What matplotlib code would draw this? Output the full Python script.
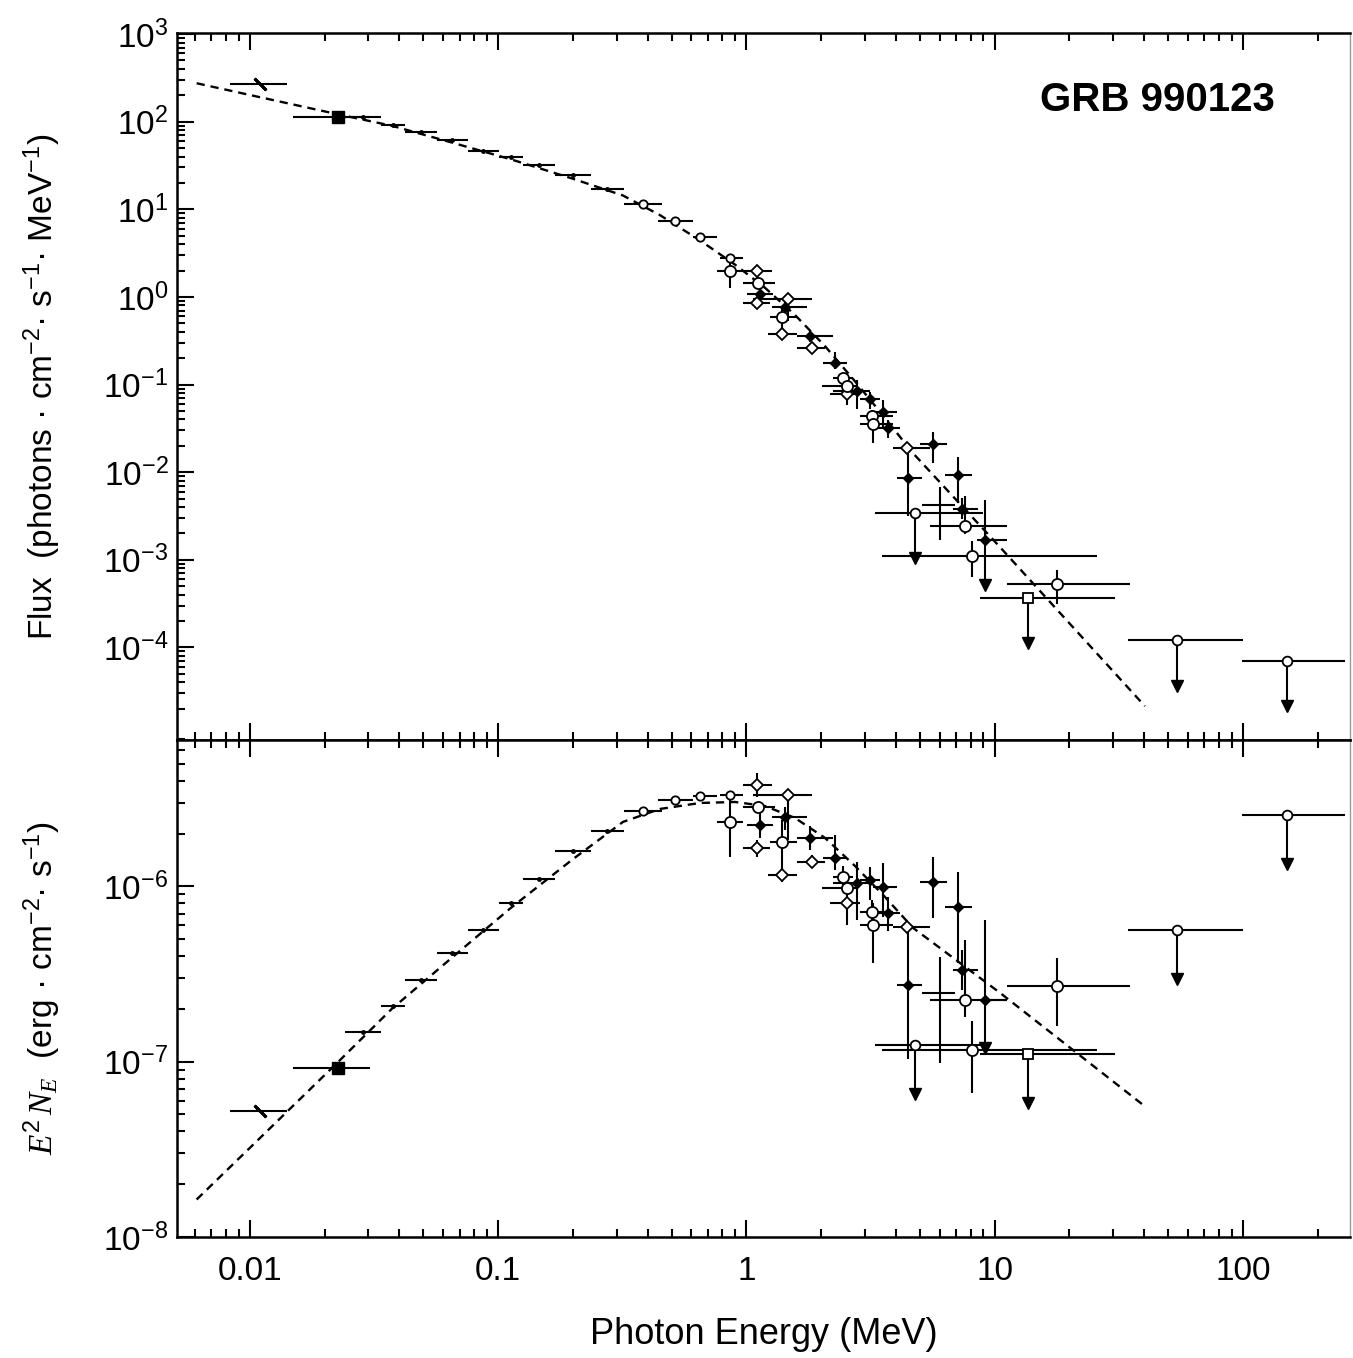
import numpy as np
import matplotlib
matplotlib.use("Agg")
import matplotlib.pyplot as plt
from matplotlib.ticker import LogLocator, NullFormatter, FuncFormatter, FixedLocator

plt.rcParams['font.family'] = ['Liberation Sans', 'DejaVu Sans']
plt.rcParams['mathtext.fontset'] = 'custom'
plt.rcParams['mathtext.rm'] = 'Liberation Sans'
plt.rcParams['mathtext.it'] = 'Liberation Serif:italic'
plt.rcParams['mathtext.default'] = 'regular'

MEV_TO_ERG = 1.602e-6

model_e = [0.0061, 0.01097, 0.02304, 0.03733, 0.06573, 0.1125, 0.1982, 0.3181,
           0.4483, 0.6495, 0.8989, 1.187, 1.568, 2.072, 2.735, 3.613, 4.686,
           10.50, 40.29]
model_nufnu = [1.636e-8, 3.666e-8, 1.020e-7, 2.004e-7, 3.966e-7, 7.54e-7,
               1.416e-6, 2.331e-6, 2.764e-6, 2.990e-6, 3.030e-6, 2.875e-6,
               2.457e-6, 1.890e-6, 1.309e-6, 8.71e-7, 5.80e-7, 2.472e-7,
               5.562e-8]

# BATSE LAD style bins (bar + tiny marker)
lad_elo = [0.02414, 0.03371, 0.04211, 0.05665, 0.07553, 0.1007, 0.1258, 0.1693, 0.2363]
lad_ehi = [0.03371, 0.04211, 0.05665, 0.07553, 0.1007, 0.1258, 0.1693, 0.2363, 0.3210]
lad_nufnu = [1.476e-7, 2.085e-7, 2.933e-7, 4.18e-7, 5.65e-7, 8.05e-7, 1.103e-6,
             1.593e-6, 2.080e-6]

# lowest energy points
cross_e, cross_elo, cross_ehi, cross_nufnu = 0.01097, 0.008305, 0.01405, 5.21e-8
square_e, square_elo, square_ehi, square_nufnu = 0.02268, 0.01494, 0.03045, 9.21e-8

# small open circles around the peak
peak_e = [0.383, 0.515, 0.6495, 0.858]
peak_elo = [0.3210, 0.44, 0.609, 0.7819]
peak_ehi = [0.4566, 0.609, 0.7606, 0.968]
peak_nufnu = [2.70e-6, 3.111e-6, 3.28e-6, 3.32e-6]

# open circles
oc_e = [0.858, 1.116, 1.386, 2.454, 2.533, 3.194, 3.243, 7.590, 8.076, 17.77]
oc_elo = [0.7586, 0.9707, 1.243, 2.237, 2.009, 2.866, 2.866, 5.485, 3.50, 11.17]
oc_ehi = [0.9707, 1.302, 1.593, 2.693, 2.779, 3.903, 3.903, 11.17, 25.8, 35.06]
oc_nufnu = [2.340e-6, 2.849e-6, 1.800e-6, 1.137e-6, 9.77e-7, 7.18e-7, 6.03e-7,
            2.26e-7, 1.17e-7, 2.69e-7]
oc_lo = [1.478e-6, 2.849e-6, 1.163e-6, 9.93e-7, 9.77e-7, 6.03e-7, 3.65e-7,
         1.81e-7, 6.63e-8, 1.59e-7]
oc_hi = [3.322e-6, 2.849e-6, 2.393e-6, 1.309e-6, 9.77e-7, 8.38e-7, 8.02e-7,
         4.96e-7, 1.70e-7, 3.90e-7]

# open diamonds
od_e = [1.099, 1.099, 1.474, 1.386, 1.830, 2.533, 4.419]
od_elo = [0.9707, 0.9707, 1.065, 1.224, 1.593, 2.170, 3.903]
od_ehi = [1.263, 1.243, 1.830, 1.593, 2.072, 2.866, 5.485]
od_nufnu = [3.787e-6, 1.651e-6, 3.322e-6, 1.163e-6, 1.385e-6, 8.02e-7, 5.90e-7]
od_lo = [3.249e-6, 1.478e-6, 1.841e-6, 1.061e-6, 1.275e-6, 6.03e-7, 5.90e-7]
od_hi = [4.416e-6, 1.841e-6, 3.397e-6, 1.275e-6, 1.512e-6, 9.15e-7, 5.90e-7]

# filled points
fp_e = [1.133, 1.429, 1.803, 2.273, 2.779, 3.145, 3.557, 3.726, 4.485, 5.655,
        7.132, 7.361, 9.135]
fp_elo = [1.002, 1.263, 1.593, 2.039, 2.237, 2.866, 3.243, 3.243, 4.027, 5.000,
          6.304, 6.808, 8.459]
fp_ehi = [1.282, 1.748, 2.237, 2.533, 3.145, 3.450, 4.027, 4.153, 5.079, 6.404,
          8.076, 8.585, 11.17]
fp_nufnu = [2.241e-6, 2.498e-6, 1.882e-6, 1.448e-6, 1.043e-6, 1.089e-6, 9.97e-7,
            7.04e-7, 2.75e-7, 1.065e-6, 7.67e-7, 3.34e-7, 2.26e-7]
fp_lo = [1.882e-6, 2.099e-6, 1.614e-6, 1.242e-6, 6.44e-7, 8.38e-7, 6.73e-7,
         5.53e-7, 1.03e-7, 6.59e-7, 3.65e-7, 2.57e-7, 2.26e-7]
fp_hi = [2.668e-6, 2.849e-6, 2.212e-6, 1.965e-6, 1.379e-6, 1.297e-6, 1.361e-6,
         8.75e-7, 5.90e-7, 1.478e-6, 1.214e-6, 4.35e-7, 6.44e-7]

# bare cross
bc_e, bc_elo, bc_ehi = [6.018], [5.079], [6.917]
bc_nufnu, bc_lo, bc_hi = [2.46e-7], [9.83e-8], [3.98e-7]

# upper limits
ul_e = [4.773, 13.65, 54.07, 150.0, 9.135]
ul_elo = [3.294, 8.722, 34.51, 98.8, 9.135]
ul_ehi = [8.994, 30.51, 100.3, 257.6, 9.135]
ul_nufnu = [1.25e-7, 1.10e-7, 5.65e-7, 2.555e-6, 2.26e-7]
ul_marker = ['o', 's', 'o', 'o', None]


def conv(e, v, flux):
    e = np.asarray(e, dtype=float)
    v = np.asarray(v, dtype=float)
    return v / (e ** 2 * MEV_TO_ERG) if flux else v


def points(ax, flux, e, elo, ehi, v, lo, hi, **kw):
    e = np.asarray(e, dtype=float)
    y = conv(e, v, flux)
    ylo = conv(e, lo, flux)
    yhi = conv(e, hi, flux)
    ax.errorbar(e, y, xerr=[e - np.asarray(elo), np.asarray(ehi) - e],
                yerr=[y - ylo, yhi - y], color='black', ecolor='black',
                elinewidth=1.5, capsize=0, linestyle='none', **kw)


def draw_panel(ax, flux, arrow_fac):
    ax.plot(model_e, conv(model_e, model_nufnu, flux), color='black', lw=1.7,
            dashes=(3.5, 2.5), zorder=1)
    lad_c = np.sqrt(np.array(lad_elo) * np.array(lad_ehi))
    points(ax, flux, lad_c, lad_elo, lad_ehi, lad_nufnu, lad_nufnu, lad_nufnu,
           marker='o', ms=2.5)
    points(ax, flux, [cross_e], [cross_elo], [cross_ehi], [cross_nufnu],
           [cross_nufnu], [cross_nufnu], marker=(2, 2, 45), ms=12, mew=2)
    points(ax, flux, [square_e], [square_elo], [square_ehi], [square_nufnu],
           [square_nufnu], [square_nufnu], marker='s', ms=8)
    points(ax, flux, peak_e, peak_elo, peak_ehi, peak_nufnu, peak_nufnu,
           peak_nufnu, marker='o', ms=6, mfc='white', mew=1.3)
    points(ax, flux, bc_e, bc_elo, bc_ehi, bc_nufnu, bc_lo, bc_hi, marker='none')
    points(ax, flux, fp_e, fp_elo, fp_ehi, fp_nufnu, fp_lo, fp_hi,
           marker='D', ms=5.5)
    points(ax, flux, od_e, od_elo, od_ehi, od_nufnu, od_lo, od_hi,
           marker='D', ms=6, mfc='white', mew=1.3)
    points(ax, flux, oc_e, oc_elo, oc_ehi, oc_nufnu, oc_lo, oc_hi,
           marker='o', ms=8, mfc='white', mew=1.3)
    for e, elo, ehi, v, m in zip(ul_e, ul_elo, ul_ehi, ul_nufnu, ul_marker):
        y = float(conv(e, v, flux))
        ax.plot([e, e], [y, y / arrow_fac], color='black', lw=1.5)
        ax.plot(e, y / arrow_fac, marker='v', ms=9, color='black')
        if m is not None:
            points(ax, flux, [e], [elo], [ehi], [v], [v], [v], marker=m, ms=7,
                   mfc='white', mew=1.3)


def style_axis(ax):
    ax.set_xscale('log')
    ax.set_yscale('log')
    ax.set_xlim(0.00507, 270)
    for side in ['left', 'top', 'bottom']:
        ax.spines[side].set_linewidth(1.8)
    ax.spines['right'].set_linewidth(1.0)
    ax.spines['right'].set_color('#999999')
    ax.xaxis.set_minor_locator(LogLocator(base=10, subs=np.arange(2, 10), numticks=50))
    ax.yaxis.set_minor_locator(LogLocator(base=10, subs=np.arange(2, 10), numticks=50))
    ax.xaxis.set_minor_formatter(NullFormatter())
    ax.yaxis.set_minor_formatter(NullFormatter())
    ax.tick_params(which='both', direction='in', top=True, bottom=True,
                   left=True, right=False, width=1.5, labelsize=24)
    ax.tick_params(which='major', length=12)
    ax.tick_params(which='minor', length=6)
    ax.tick_params(axis='y', pad=6)
    ax.yaxis.set_major_formatter(FuncFormatter(
        lambda v, p: r'$\mathregular{10^{%d}}$' % round(np.log10(v))))


fig = plt.figure(figsize=(13.53, 13.58), dpi=100)
ax_top = fig.add_axes([0.1306, 0.4551, 0.8672, 0.5204])
ax_bot = fig.add_axes([0.1306, 0.0891, 0.8672, 0.3660])

style_axis(ax_top)
style_axis(ax_bot)

draw_panel(ax_top, True, 3.3)
draw_panel(ax_bot, False, 1.9)

ax_top.set_ylim(8.8e-6, 1.02e3)
ax_top.yaxis.set_major_locator(FixedLocator([1e-4, 1e-3, 1e-2, 1e-1, 1, 10, 100, 1000]))
ax_top.tick_params(axis='x', labelbottom=False)
ax_top.set_ylabel(r'Flux  (photons · cm$^{-2}$· s$^{-1}$· MeV$^{-1}$)', fontsize=24)
ax_top.yaxis.set_label_coords(-0.097, 0.5)
ax_top.text(0.8355, 0.905, 'GRB 990123', transform=ax_top.transAxes,
            ha='center', va='center', fontsize=29, fontweight='bold')

ax_bot.set_ylim(1.0e-8, 6.84e-6)
ax_bot.yaxis.set_major_locator(FixedLocator([1e-8, 1e-7, 1e-6]))
ax_bot.xaxis.set_major_formatter(FuncFormatter(lambda v, p: '%g' % v))
ax_bot.tick_params(axis='x', pad=14)
ax_bot.set_ylabel(r'$\mathit{E}^{2}\,\mathit{N_E}$  (erg · cm$^{-2}$· s$^{-1}$)', fontsize=24)
ax_bot.yaxis.set_label_coords(-0.097, 0.5)
ax_bot.set_xlabel('Photon Energy (MeV)', fontsize=26)
ax_bot.xaxis.set_label_coords(0.5, -0.16)

fig.savefig('out.png', dpi=100)
